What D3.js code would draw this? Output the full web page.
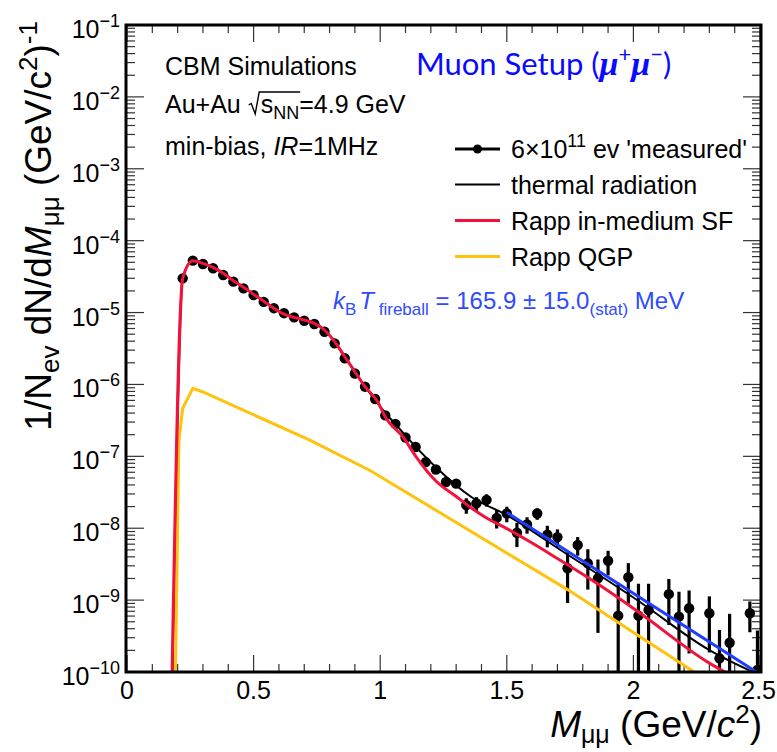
<!DOCTYPE html>
<html>
<head>
<meta charset="utf-8">
<script src="https://cdn.jsdelivr.net/npm/d3@7"></script>
<style>
  html, body { margin: 0; padding: 0; background: #fff; }
  svg { display: block; font-family: "Liberation Sans", Arial, Helvetica, sans-serif; }
</style>
</head>
<body>
<svg id="chart" width="777" height="752"></svg>
<script>
// ---- measured spectrum (bin centres, yield, statistical error) ----
const massBins = [0.22,0.26,0.30,0.34,0.38,0.42,0.46,0.50,0.54,0.58,0.62,0.66,0.70,0.74,0.78,0.82,0.86,0.90,0.94,0.98,
  1.02,1.06,1.10,1.14,1.18,1.22,1.26,1.30,1.34,1.38,1.42,1.46,1.50,1.54,1.58,1.62,1.66,1.70,1.74,1.78,1.82,1.86,1.90,
  1.94,1.98,2.02,2.06,2.14,2.18,2.22,2.30,2.34,2.38,2.46,2.49];
const measuredYield = [2.99e-5,5.27e-5,4.74e-5,4.13e-5,3.33e-5,2.69e-5,2.17e-5,1.75e-5,1.41e-5,1.15e-5,9.80e-6,8.58e-6,
  7.70e-6,6.93e-6,5.41e-6,3.73e-6,2.31e-6,1.42e-6,9.31e-7,6.28e-7,3.71e-7,2.83e-7,1.83e-7,1.35e-7,8.31e-8,6.56e-8,
  4.39e-8,4.17e-8,2.10e-8,2.22e-8,2.48e-8,1.39e-8,1.60e-8,8.66e-9,1.13e-8,1.60e-8,8.12e-9,7.53e-9,2.77e-9,5.84e-9,
  3.25e-9,2.01e-9,3.53e-9,6.07e-10,2.08e-9,6.07e-10,7.29e-10,1.21e-9,5.88e-10,7.71e-10,6.57e-10,1.55e-10,2.55e-10,
  6.57e-10,1.07e-10];
const measuredError = [5.7e-7,7.5e-7,6.5e-7,5.8e-7,5.0e-7,4.3e-7,3.7e-7,3.2e-7,2.7e-7,2.3e-7,2.0e-7,1.8e-7,1.7e-7,
  1.6e-7,1.2e-7,5.2e-8,4.3e-8,3.3e-8,2.6e-8,2.3e-8,1.7e-8,1.5e-8,1.2e-8,1.0e-8,7.0e-9,6.0e-9,4.8e-9,4.5e-9,
  5.1e-9,4.9e-9,4.8e-9,4.0e-9,3.9e-9,3.2e-9,2.9e-9,2.9e-9,2.7e-9,2.1e-9,1.86e-9,1.69e-9,1.85e-9,1.66e-9,1.32e-9,
  1.14e-9,1.19e-9,1.08e-9,9.6e-10,7.6e-10,7.2e-10,5.9e-10,4.7e-10,2.3e-10,3.9e-10,3.0e-10,2.7e-10];

// ---- model curves ----
const thermalMass = [0.18,0.22,0.26,0.30,0.34,0.38,0.42,0.46,0.50,0.54,0.58,0.62,0.66,0.70,0.74,0.78,0.82,0.86,0.90,0.94,
  0.98,1.02,1.06,1.10,1.22,1.36,1.50,1.70,2.02,2.30,2.48];
const thermalYield = [1e-10,3.01e-5,5.32e-5,4.87e-5,4.29e-5,3.55e-5,2.80e-5,2.27e-5,1.81e-5,1.45e-5,1.16e-5,9.64e-6,
  8.67e-6,7.95e-6,7.16e-6,5.77e-6,3.97e-6,2.45e-6,1.52e-6,9.42e-7,6.08e-7,4.01e-7,2.81e-7,1.94e-7,7.06e-8,2.72e-8,
  1.52e-8,5.31e-9,9.73e-10,2.02e-10,9.7e-11];

const inMediumMass = [0.178,0.22,0.26,0.30,0.34,0.38,0.42,0.46,0.50,0.54,0.58,0.62,0.66,0.70,0.74,0.78,0.82,0.86,0.90,0.94,
  0.99,1.02,1.09,1.14,1.22,1.30,1.36,1.42,1.50,1.60,1.70,1.86,2.02,2.30,2.37];
const inMediumYield = [1e-10,2.99e-5,5.27e-5,4.84e-5,4.26e-5,3.52e-5,2.77e-5,2.25e-5,1.79e-5,1.44e-5,1.15e-5,9.54e-6,
  8.58e-6,7.87e-6,7.09e-6,5.72e-6,3.93e-6,2.43e-6,1.50e-6,9.31e-7,5.76e-7,3.53e-7,1.86e-7,1.01e-7,4.53e-8,2.76e-8,
  1.91e-8,1.39e-8,9.89e-9,6.23e-9,3.79e-9,1.67e-9,6.83e-10,1.33e-10,9.6e-11];

const qgpMass  = [0.19,0.205,0.22,0.26,0.30,0.72,0.96,1.74,2.25];
const qgpYield = [5e-11,1.64e-7,4.66e-7,8.84e-7,7.85e-7,1.69e-7,6.35e-8,1.40e-9,9.5e-11];

// exponential slope fit above 1.5 GeV/c^2
const fitMass  = [1.5, 2.5];
const fitYield = [1.66e-8, 9.3e-11];

// ---- axes ----
const xTickValues = [0, 0.5, 1, 1.5, 2, 2.5];
const xTickLabels = ["0", "0.5", "1", "1.5", "2", "2.5"];
const yTickExponents = [-1, -2, -3, -4, -5, -6, -7, -8, -9, -10];

const legendLabels = ["measured", "thermal radiation", "Rapp in-medium SF", "Rapp QGP"];

const COLORS = { data: "#000", thermal: "#000", inMedium: "#f0143c", qgp: "#ffc20e", fit: "#1f3cff" };

const svg = d3.select("#chart");
svg.append("rect").attr("width", 777).attr("height", 752).attr("fill", "#fff");

const L = 126, R = 761, T = 25, B = 672;
const x = d3.scaleLinear().domain([0, 2.5]).range([127, 760]);
const y = d3.scaleLog().domain([1e-10, 1e-1]).range([B, T]);

svg.append("defs").append("clipPath").attr("id", "plotArea")
  .append("rect").attr("x", L).attr("y", T).attr("width", R - L).attr("height", B - T);

// helper for text with sub/superscripts
function richText(g, px, py, parts, base) {
  const t = g.append("text").attr("x", px).attr("y", py)
    .attr("font-size", base.size).attr("fill", base.fill || "#000")
    .attr("text-anchor", base.anchor || "start");
  if (base.family) t.attr("font-family", base.family);
  let prev = 0;
  parts.forEach(p => {
    const s = t.append("tspan").text(p.t);
    const shift = p.shift || 0;
    if (shift !== prev) s.attr("dy", shift - prev);
    prev = shift;
    if (p.size) s.attr("font-size", p.size);
    if (p.italic) s.attr("font-style", "italic");
    if (p.bold) s.attr("font-weight", "bold");
    if (p.family) s.attr("font-family", p.family);
    if (p.dx) s.attr("dx", p.dx);
  });
  return t;
}

// ---- ticks (all four sides, pointing inward) ----
const ticks = svg.append("g").attr("stroke", "#333").attr("stroke-width", 1.2);
const xMinor = d3.range(0, 26).map(i => i / 10);
xMinor.forEach(v => {
  const major = xTickValues.some(m => Math.abs(m - v) < 1e-9);
  const len = major ? 17 : 8;
  ticks.append("line").attr("x1", x(v)).attr("x2", x(v)).attr("y1", B).attr("y2", B - len);
  ticks.append("line").attr("x1", x(v)).attr("x2", x(v)).attr("y1", T).attr("y2", T + len);
});
yTickExponents.forEach(e => {
  const v = Math.pow(10, e);
  ticks.append("line").attr("x1", L).attr("x2", L + 18).attr("y1", y(v)).attr("y2", y(v));
  ticks.append("line").attr("x1", R).attr("x2", R - 18).attr("y1", y(v)).attr("y2", y(v));
});
for (let e = -10; e < -1; e++) {
  for (let k = 2; k <= 9; k++) {
    const v = k * Math.pow(10, e);
    ticks.append("line").attr("x1", L).attr("x2", L + 9).attr("y1", y(v)).attr("y2", y(v));
    ticks.append("line").attr("x1", R).attr("x2", R - 9).attr("y1", y(v)).attr("y2", y(v));
  }
}

// ---- tick labels ----
const labels = svg.append("g");
xTickValues.forEach((v, i) => {
  const t = labels.append("text").attr("x", x(v)).attr("y", 699).attr("text-anchor", "middle")
    .attr("font-size", 25).text(xTickLabels[i]);
  // keep the last label inside the canvas
  const bb = t.node().getBBox();
  if (bb.x + bb.width > 776) t.attr("text-anchor", "end").attr("x", 776);
});
yTickExponents.forEach(e => {
  richText(labels, 120, y(Math.pow(10, e)) + 13,
    [{ t: "10" }, { t: "\u2212" + Math.abs(e), size: 18, shift: -11 }],
    { size: 25, anchor: "end" });
});

// ---- axis titles ----
const yTitle = svg.append("g").attr("transform", "translate(51,21) rotate(-90)");
richText(yTitle, 0, 0, [
  { t: "1/N" }, { t: "ev", size: 26, shift: 8 }, { t: " dN/d" }, { t: "M", italic: true },
  { t: "\u03bc\u03bc", size: 26, shift: 8 }, { t: " (GeV/c" }, { t: "2", size: 26, shift: -14 },
  { t: ")" }, { t: "-1", size: 26, shift: -14 }
], { size: 37, anchor: "end" });

richText(svg, 762, 737, [
  { t: "M", italic: true }, { t: "\u03bc\u03bc", size: 25, shift: 6 }, { t: " (GeV/" },
  { t: "c", italic: true }, { t: "2", size: 26, shift: -14 }, { t: ")" }
], { size: 37, anchor: "end" });

// ---- plot content ----
const plot = svg.append("g").attr("clip-path", "url(#plotArea)");
const pairs = (xs, ys) => xs.map((m, i) => [m, ys[i]]);
const smooth = d3.line().x(d => x(d[0])).y(d => y(d[1])).curve(d3.curveMonotoneX);
const straight = d3.line().x(d => x(d[0])).y(d => y(d[1]));

// data points with error bars
const pts = massBins.map((m, i) => ({ m, v: measuredYield[i], e: measuredError[i] }));
plot.append("g").selectAll("line").data(pts).join("line")
  .attr("x1", d => x(d.m)).attr("x2", d => x(d.m))
  .attr("y1", d => y(d.v + d.e)).attr("y2", d => y(Math.max(d.v - d.e, 1e-12)))
  .attr("stroke", COLORS.data).attr("stroke-width", 3.2);
plot.append("g").selectAll("circle").data(pts).join("circle")
  .attr("cx", d => x(d.m)).attr("cy", d => y(d.v)).attr("r", 5.2).attr("fill", COLORS.data);

plot.append("path").attr("d", smooth(pairs(thermalMass, thermalYield)))
  .attr("fill", "none").attr("stroke", COLORS.thermal).attr("stroke-width", 2);
plot.append("path").attr("d", straight(pairs(qgpMass, qgpYield)))
  .attr("fill", "none").attr("stroke", COLORS.qgp).attr("stroke-width", 3);
plot.append("path").attr("d", smooth(pairs(inMediumMass, inMediumYield)))
  .attr("fill", "none").attr("stroke", COLORS.inMedium).attr("stroke-width", 3);
plot.append("path").attr("d", straight(pairs(fitMass, fitYield)))
  .attr("fill", "none").attr("stroke", COLORS.fit).attr("stroke-width", 3);

// ---- frame ----
svg.append("rect").attr("x", L).attr("y", T).attr("width", R - L).attr("height", B - T)
  .attr("fill", "none").attr("stroke", "#000").attr("stroke-width", 3);

// ---- annotations ----
const ann = svg.append("g");
ann.append("text").attr("x", 165).attr("y", 75).attr("font-size", 25).text("CBM Simulations");

const au = richText(ann, 165, 113, [
  { t: "Au+Au " }, { t: "s", dx: 13 }, { t: "NN", size: 18, shift: 6 }, { t: "=4.9 GeV" }
], { size: 25 });
{
  const node = au.node();
  const x0 = node.getEndPositionOfChar(5).x + 1;
  const x1 = node.getEndPositionOfChar(8).x + 1;
  const by = 113;
  ann.append("path")
    .attr("d", `M${x0},${by - 8} L${x0 + 2.5},${by - 9.5} L${x0 + 6.5},${by + 1} L${x0 + 10.5},${by - 21} H${x1}`)
    .attr("fill", "none").attr("stroke", "#000").attr("stroke-width", 1.4);
}

richText(ann, 165, 155, [
  { t: "min-bias, " }, { t: "IR", italic: true }, { t: "=1MHz" }
], { size: 25 });

richText(ann, 416, 75, [
  { t: "Muon Setup (" },
  { t: "\u03bc", bold: true, italic: true, family: "'Liberation Serif', serif", size: 34 },
  { t: "+", size: 22, shift: -13 },
  { t: "\u03bc", bold: true, italic: true, family: "'Liberation Serif', serif", size: 34 },
  { t: "\u2212", size: 22, shift: -13 },
  { t: ")" }
], { size: 31, fill: "#0a0aff", family: "Lato, 'Noto Sans', sans-serif" });

richText(ann, 333, 309, [
  { t: "k", italic: true }, { t: "B", size: 17, shift: 6 }, { t: "T", italic: true, dx: 3 },
  { t: " fireball", size: 17, shift: 6 }, { t: " = 165.9 \u00b1 15.0" },
  { t: "(stat)", size: 17, shift: 6 }, { t: " MeV" }
], { size: 24, fill: "#2f4bff" });

// ---- legend ----
const legendY = [149, 184.5, 220.5, 256.5];
const leg = svg.append("g");
const styles = [
  { c: COLORS.data, w: 3.2, marker: true }, { c: COLORS.thermal, w: 2 },
  { c: COLORS.inMedium, w: 3 }, { c: COLORS.qgp, w: 3 }
];
legendLabels.forEach((lab, i) => {
  const ly = legendY[i];
  leg.append("line").attr("x1", 455).attr("x2", 500).attr("y1", ly).attr("y2", ly)
    .attr("stroke", styles[i].c).attr("stroke-width", styles[i].w);
  if (styles[i].marker) leg.append("circle").attr("cx", 477.5).attr("cy", ly).attr("r", 4.5).attr("fill", "#000");
  if (i === 0) {
    richText(leg, 511, ly + 9, [
      { t: "6\u00d710" }, { t: "11", size: 18, shift: -11 }, { t: " ev '" + lab + "'" }
    ], { size: 25 });
  } else {
    leg.append("text").attr("x", 511).attr("y", ly + 9).attr("font-size", 25).text(lab);
  }
});
</script>
</body>
</html>
